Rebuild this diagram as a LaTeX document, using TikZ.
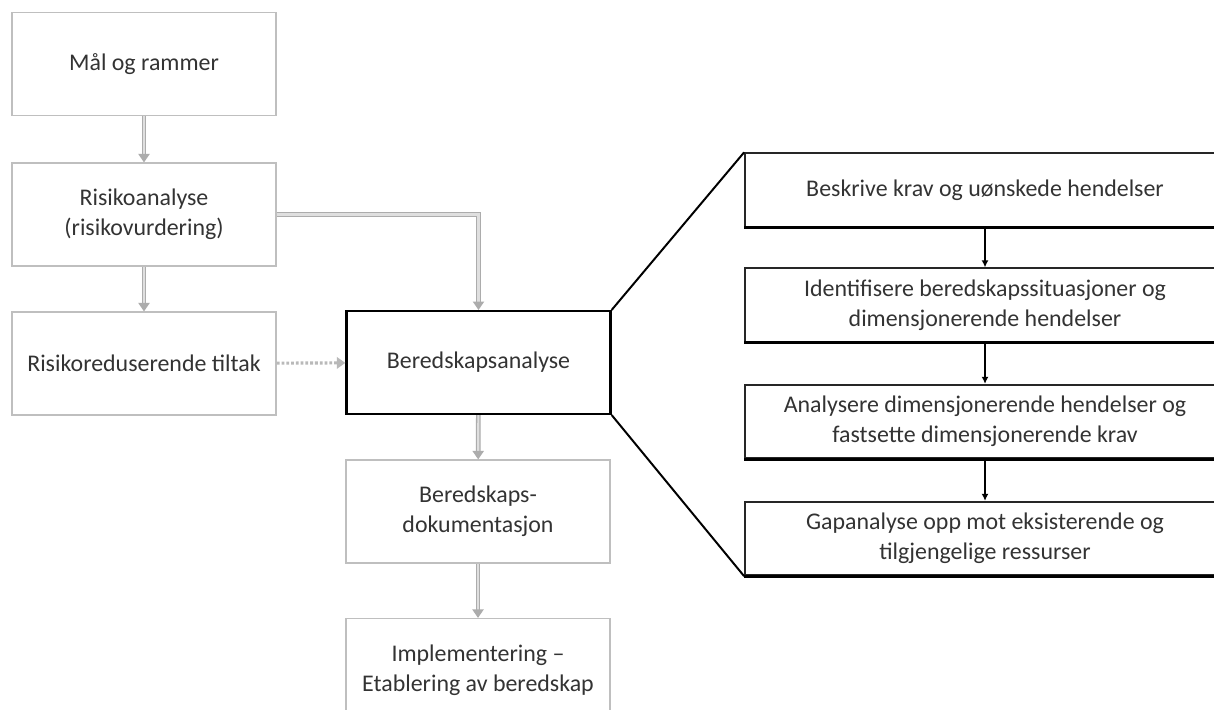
\documentclass[tikz,border=0pt]{standalone}
\usepackage{fontspec}
\setmainfont{Carlito}
\usetikzlibrary{positioning, arrows.meta}

\begin{document}
\begin{tikzpicture}[
    x=0.025cm, y=-0.025cm,
    box/.style={rectangle, draw=gray!50, line width=1pt, fill=white, text=black!80, align=center, minimum width=6.6cm, minimum height=2.57cm, font=\fontsize{17}{21}\selectfont},
    mainbox/.style={box, draw=black, line width=1.6pt},
    stepbox/.style={box, draw=black!85, line width=1.2pt, minimum width=12cm, minimum height=1.84cm},
    line/.style={draw=gray!65, double=gray!25, double distance=1.5pt, line width=0.9pt, -{Triangle[length=6pt,width=8pt]}},
    dotline/.style={draw=gray!55, line width=2.2pt, dash pattern=on 2pt off 1.4pt, -{Triangle[length=6pt,width=8pt]}},
    link/.style={draw=black, line width=1.6pt, -{Latex[length=5pt,width=5pt]}}
    ]

    \clip (0,0) rectangle (1214,709);
    \fill[white] (0,0) rectangle (1214,709);

    % venstre kolonne
    \node[box] (maal) at (144,64) {Mål og rammer};
    \node[box] (risiko) at (144,214.5) {Risikoanalyse\\(risikovurdering)};
    \node[box] (tiltak) at (144,363.5) {Risikoreduserende tiltak};

    % midtre kolonne
    \node[mainbox] (bered) at (478.5,362.5) {Beredskapsanalyse};
    \node[box] (dok) at (478,511.5) {Beredskaps-\\dokumentasjon};
    \node[box] (impl) at (478,670) {Implementering –\\Etablering av beredskap};

    % delsteg
    \node[stepbox] (krav) at (985,190) {Beskrive krav og uønskede hendelser};
    \node[stepbox] (ident) at (985,305) {Identifisere beredskapssituasjoner og\\dimensjonerende hendelser};
    \node[stepbox] (analyse) at (985,421.5) {Analysere dimensjonerende hendelser og\\fastsette dimensjonerende krav};
    \node[stepbox] (gap) at (985,538.5) {Gapanalyse opp mot eksisterende og\\tilgjengelige ressurser};
    \foreach \n in {krav,ident,analyse,gap}
        \draw[black, line width=2.2pt] (\n.south west) -- (\n.south east);

    \draw[line] (maal) -- (risiko);
    \draw[line] (risiko) -- (tiltak);
    \draw[line] (risiko) -| (bered);
    \draw[dotline] (tiltak) -- (bered);
    \draw[line] (bered) -- (dok);
    \draw[line] (dok) -- (impl);

    \draw[black, line width=1.4pt] (bered.north east) -- (krav.north west);
    \draw[black, line width=1.4pt] (bered.south east) -- (gap.south west);

    \draw[link] (krav) -- (ident);
    \draw[link] (ident) -- (analyse);
    \draw[link] (analyse) -- (gap);

\end{tikzpicture}
\end{document}
